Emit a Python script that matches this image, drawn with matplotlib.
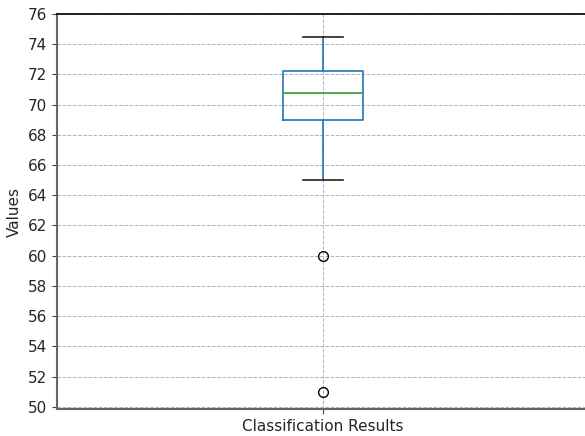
import matplotlib
matplotlib.use("Agg")
import matplotlib.pyplot as plt

# box statistics
label = "Classification Results"
q1 = 69.0
median = 70.75
q3 = 72.25
whislo = 65.0
whishi = 74.5
fliers = [60.0, 51.0]

stats = [dict(label=label, q1=q1, med=median, q3=q3,
              whislo=whislo, whishi=whishi, fliers=fliers)]

fig = plt.figure(figsize=(5.85, 4.36), dpi=100)
ax = fig.add_axes([57 / 585, 1 - 409 / 436, 532 / 585, 395 / 436])

ax.bxp(stats, positions=[1], widths=0.15,
       boxprops=dict(color="#1f77b4", linewidth=1.2),
       whiskerprops=dict(color="#1f77b4", linewidth=1.2),
       capprops=dict(color="#222222", linewidth=1.2),
       medianprops=dict(color="#2ca02c", linewidth=1.2),
       flierprops=dict(marker="o", markerfacecolor="none",
                       markeredgecolor="black", markersize=7))

ax.set_xlim(0.5, 1.5)
ax.set_ylim(49.85, 76)
ax.set_yticks(range(50, 77, 2))
ax.grid(True, linestyle="--", color="#b0b0c0", linewidth=0.7)
ax.set_axisbelow(True)
ax.set_ylabel("Values", fontsize=11, color="#262626")
ax.tick_params(labelsize=11, labelcolor="#262626", color="#444444")

ax.spines["right"].set_visible(False)
ax.spines["left"].set_color("#666666")
ax.spines["left"].set_linewidth(1.5)
ax.spines["bottom"].set_color("#666666")
ax.spines["bottom"].set_linewidth(1.5)
ax.spines["top"].set_color("black")
ax.spines["top"].set_linewidth(1.2)

fig.savefig("out.png", dpi=100)
